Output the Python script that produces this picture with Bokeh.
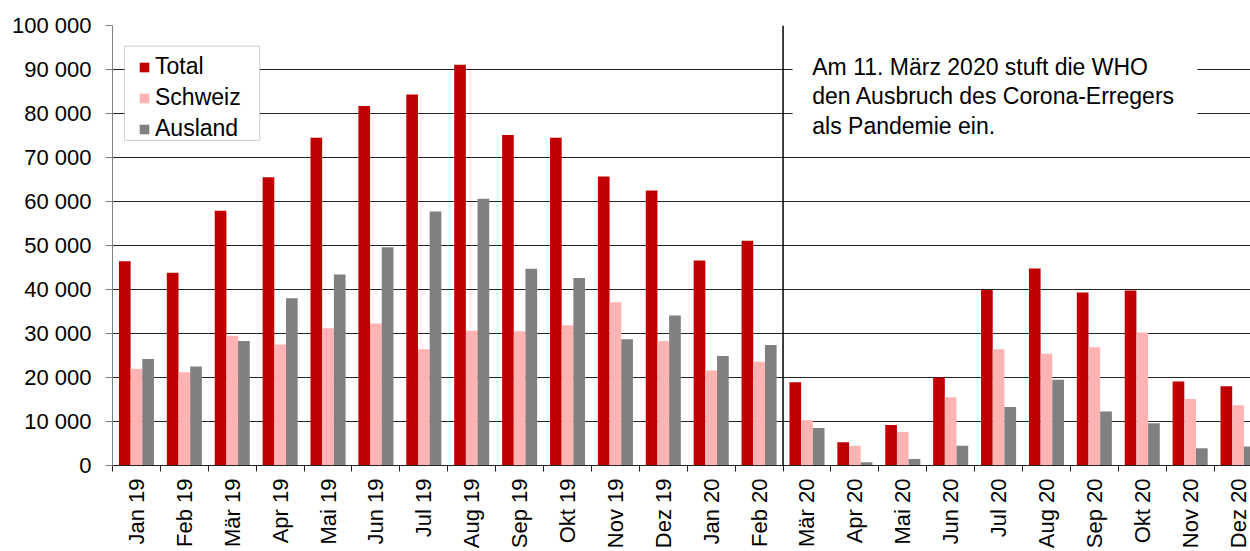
import math
import numpy as np
from bokeh.plotting import figure
from bokeh.models import (ColumnDataSource, Range1d, FixedTicker, Span, BoxAnnotation,
                          Label, Legend, LegendItem)
from bokeh.transform import dodge
from bokeh.embed import file_html
from bokeh.resources import INLINE

# ---------------- data ----------------
months = ["Jan 19", "Feb 19", "Mär 19", "Apr 19", "Mai 19", "Jun 19", "Jul 19", "Aug 19",
          "Sep 19", "Okt 19", "Nov 19", "Dez 19", "Jan 20", "Feb 20", "Mär 20", "Apr 20",
          "Mai 20", "Jun 20", "Jul 20", "Aug 20", "Sep 20", "Okt 20", "Nov 20", "Dez 20"]
total = [46400, 43800, 57900, 65500, 74500, 81700, 84300, 91100, 75100, 74500, 65700, 62500,
         46600, 51100, 18900, 5300, 9200, 20000, 39900, 44800, 39300, 39800, 19100, 18000]
schweiz = [22000, 21200, 29500, 27500, 31200, 32300, 26400, 30600, 30500, 31900, 37100, 28300,
           21600, 23600, 10300, 4500, 7600, 15500, 26400, 25400, 26900, 30200, 15100, 13700]
ausland = [24200, 22500, 28300, 38000, 43400, 49600, 57700, 60600, 44700, 42600, 28700, 34100,
           24900, 27400, 8500, 750, 1500, 4500, 13300, 19500, 12300, 9600, 3900, 4300]
y_ticks = [0, 10000, 20000, 30000, 40000, 50000, 60000, 70000, 80000, 90000, 100000]
y_tick_labels = ["0", "10 000", "20 000", "30 000", "40 000", "50 000", "60 000",
                 "70 000", "80 000", "90 000", "100 000"]
series_names = ["Total", "Schweiz", "Ausland"]
series_colors = ["#C00000", "#FFB3B3", "#808080"]
note = "Am 11. März 2020 stuft die WHO\nden Ausbruch des Corona-Erregers\nals Pandemie ein."
who_index = months.index("Mär 20")

FONT = "Liberation Sans"
n = len(months)
centers = [i + 0.5 for i in range(n)]
bounds = [float(i) for i in range(n + 1)]

src = ColumnDataSource(dict(x=centers, total=total, schweiz=schweiz, ausland=ausland))

p = figure(width=1250, height=551, output_backend="svg", toolbar_location=None,
           x_range=Range1d(0, 23.76), y_range=Range1d(0, 100000),
           min_border_left=112, min_border_right=0, min_border_top=25, min_border_bottom=86)
p.outline_line_color = None
p.background_fill_color = "white"

bw = 0.244
r_total = p.vbar(x=dodge("x", -bw, range=p.x_range), top="total", width=bw, source=src,
                 fill_color=series_colors[0], line_color=None)
r_ch = p.vbar(x=dodge("x", 0.0, range=p.x_range), top="schweiz", width=bw, source=src,
              fill_color=series_colors[1], line_color=None)
r_aus = p.vbar(x=dodge("x", bw, range=p.x_range), top="ausland", width=bw, source=src,
               fill_color=series_colors[2], line_color=None)

# x axis
p.xaxis.ticker = FixedTicker(ticks=centers, minor_ticks=bounds)
p.xaxis.major_label_overrides = {c: m for c, m in zip(centers, months)}
p.xaxis.major_label_orientation = math.pi / 2
p.xaxis.major_tick_out = 0
p.xaxis.major_tick_in = 0
p.xaxis.minor_tick_out = 6
p.xaxis.minor_tick_in = 0
p.xaxis.minor_tick_line_color = "#222222"
p.xaxis.axis_line_color = "#222222"
p.xaxis.major_label_standoff = 7
p.xaxis.major_label_text_font = FONT
p.xaxis.major_label_text_font_size = "22px"
p.xaxis.major_label_text_color = "black"

# y axis
p.yaxis.ticker = FixedTicker(ticks=y_ticks)
p.yaxis.major_label_overrides = {t: l for t, l in zip(y_ticks, y_tick_labels)}
p.yaxis.axis_line_color = "#808080"
p.yaxis.major_tick_line_color = "#808080"
p.yaxis.major_tick_out = 7
p.yaxis.major_tick_in = 0
p.yaxis.minor_tick_line_color = None
p.yaxis.major_label_standoff = 14
p.yaxis.major_label_text_font = FONT
p.yaxis.major_label_text_font_size = "22px"
p.yaxis.major_label_text_color = "black"

p.xgrid.grid_line_color = None
p.ygrid.ticker = FixedTicker(ticks=y_ticks)
p.ygrid.grid_line_color = "#262626"
p.ygrid.grid_line_width = 1

# vertical separator (WHO pandemic declaration)
p.add_layout(Span(location=who_index, dimension="height", line_color="black", line_width=1.5))

# annotation box with text
p.add_layout(BoxAnnotation(left=14.2, right=22.65, top=97800, bottom=72300,
                           fill_color="white", fill_alpha=1.0, line_color=None))
p.add_layout(Label(x=14.61, y=93500, text=note, text_baseline="top", text_align="left",
                   text_font=FONT, text_font_size="23px", text_color="black",
                   text_line_height=1.13))

# legend frame + legend
p.add_layout(BoxAnnotation(left=0.25, right=3.075, top=95300, bottom=73900,
                           fill_color="white", fill_alpha=1.0,
                           line_color="#606060", line_width=1))
legend = Legend(items=[LegendItem(label=series_names[0], renderers=[r_total]),
                       LegendItem(label=series_names[1], renderers=[r_ch]),
                       LegendItem(label=series_names[2], renderers=[r_aus])],
                location=(26, 323), orientation="vertical",
                background_fill_alpha=0.0, border_line_color=None,
                padding=4, spacing=4, margin=0,
                glyph_width=12, glyph_height=12, label_height=25, label_standoff=5,
                label_text_font=FONT, label_text_font_size="23px", label_text_color="black")
p.add_layout(legend, "center")

open("out.html", "w").write(file_html(p, INLINE))
